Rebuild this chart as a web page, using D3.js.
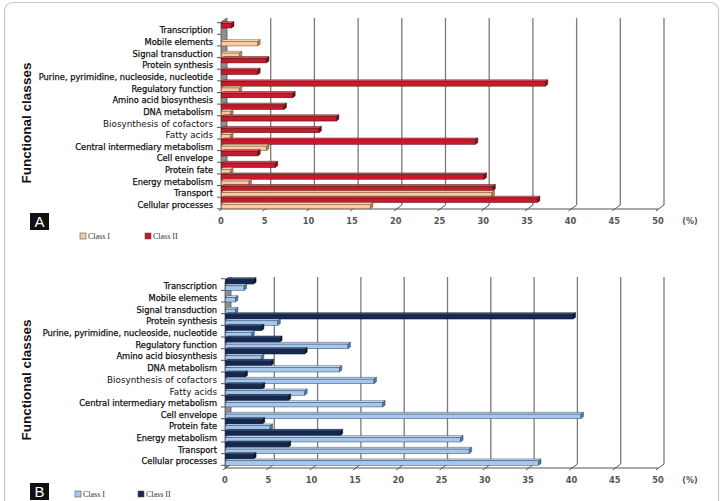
<!DOCTYPE html>
<html>
<head>
<meta charset="utf-8">
<script src="https://cdn.jsdelivr.net/npm/d3@7/dist/d3.min.js"></script>
<style>
  body { margin: 0; background: #fff; }
  svg { display: block; }
</style>
</head>
<body>
<div id="chart"></div>
<script>
// Functional classes, listed top to bottom as in the figure
var categories = [
    "Transcription", "Mobile elements", "Signal transduction", "Protein synthesis",
    "Purine, pyrimidine, nucleoside, nucleotide", "Regulatory function",
    "Amino acid biosynthesis", "DNA metabolism", "Biosynthesis of cofactors",
    "Fatty acids", "Central intermediary metabolism", "Cell envelope",
    "Protein fate", "Energy metabolism", "Transport", "Cellular processes"
];

// Panel A (%)
var classIA  = [0, 4.2, 2.1, 0, 0, 2.1, 0, 1.1, 0, 1.1, 5.2, 0, 1.1, 3.2, 31.0, 17.1];
var classIIA = [1.2, 0, 0, 5.2, 4.2, 37.1, 8.2, 7.2, 13.2, 11.2, 29.1, 4.2, 6.2, 30.1, 31.1, 36.2];

// Panel B (%)
var classIB  = [2.2, 1.2, 1.2, 6.1, 3.1, 14.2, 4.2, 13.2, 17.2, 9.2, 18.2, 41.1, 5.2, 27.2, 28.2, 36.2];
var classIIB = [3.3, 0, 0, 40.2, 4.2, 6.3, 9.2, 5.3, 2.3, 4.3, 7.3, 0, 4.3, 13.3, 7.3, 3.3];

var tickValues = [0, 5, 10, 15, 20, 25, 30, 35, 40, 45, 50];
var seriesNames = ["Class I", "Class II"];

// labels that are printed a bit larger in the original
var bigLabels = ["Biosynthesis of cofactors", "Fatty acids"];

var width = 724, height = 501;
var depthX = 6, depthY = 4;     // floor / wall depth
var barDX = 2.5, barDY = 1.8;   // bar depth
var barH = 4.5;

var svg = d3.select("#chart").append("svg")
    .attr("width", width)
    .attr("height", height);

svg.append("rect")
    .attr("width", width).attr("height", height)
    .attr("fill", "#fff");

// rounded frame round the whole figure
svg.append("rect")
    .attr("x", 4.5).attr("y", 2.5)
    .attr("width", 714).attr("height", 600)
    .attr("rx", 8)
    .attr("fill", "none")
    .attr("stroke", "#c4c4c4")
    .attr("stroke-width", 1.2);

function pts(a) { return a.map(p => p.join(",")).join(" "); }

function drawPanel(opts) {
    var g = svg.append("g");
    var x = d3.scaleLinear().domain([0, 50]).range([opts.x0, opts.x1]);
    var y = d3.scaleBand().domain(categories).range([opts.bandTop, opts.bandBottom]);
    var x0 = x(0);

    // grid lines on the back wall
    g.selectAll("line.grid")
        .data(tickValues.filter(v => v > 0))
        .enter().append("line")
        .attr("x1", d => x(d) + depthX).attr("x2", d => x(d) + depthX)
        .attr("y1", opts.axisY - depthY).attr("y2", opts.top)
        .attr("stroke", "#7a7a7a")
        .attr("stroke-width", 1.3);

    // slanted floor ticks
    g.selectAll("line.ftick")
        .data(tickValues)
        .enter().append("line")
        .attr("x1", d => x(d) - 2).attr("y1", opts.axisY + 2)
        .attr("x2", d => x(d) + depthX).attr("y2", opts.axisY - depthY)
        .attr("stroke", "#555")
        .attr("stroke-width", 1);

    // front floor edge
    g.append("line")
        .attr("x1", x0).attr("x2", x(50))
        .attr("y1", opts.axisY).attr("y2", opts.axisY)
        .attr("stroke", "#555")
        .attr("stroke-width", 1.2);

    // left wall
    g.append("polygon")
        .attr("points", pts([[x0, opts.axisY], [x0, opts.top + depthY],
            [x0 + depthX, opts.top], [x0 + depthX, opts.axisY - depthY]]))
        .attr("fill", "#8e8e8e")
        .attr("stroke", "#555")
        .attr("stroke-width", 0.8);

    // left axis ticks
    var bounds = categories.map(c => y(c)).concat([opts.bandBottom]);
    g.selectAll("line.ltick")
        .data(bounds)
        .enter().append("line")
        .attr("x1", x0 - 4).attr("x2", x0)
        .attr("y1", d => d).attr("y2", d => d)
        .attr("stroke", "#555");

    // bars: Class II on top, Class I below
    var rows = [];
    categories.forEach(function (c, i) {
        var yc = y(c) + y.bandwidth() / 2;
        rows.push({ v: opts.classII[i], yf: yc - 0.5 - barH, col: opts.colors[1] });
        rows.push({ v: opts.classI[i], yf: yc + 1.3, col: opts.colors[0] });
    });
    var bars = g.selectAll("g.bar")
        .data(rows.filter(r => r.v > 0))
        .enter().append("g")
        .attr("class", "bar");

    bars.append("polygon")
        .attr("points", d => pts([[x0, d.yf], [x0 + barDX, d.yf - barDY],
            [x(d.v) + barDX, d.yf - barDY], [x(d.v), d.yf]]))
        .attr("fill", d => d.col.top)
        .attr("stroke", d => d.col.edge)
        .attr("stroke-width", 0.5);

    bars.append("rect")
        .attr("x", x0 + 0.5)
        .attr("y", d => d.yf)
        .attr("width", d => x(d.v) - x0 - 0.5)
        .attr("height", barH)
        .attr("fill", d => d.col.front)
        .attr("stroke", d => d.col.edge)
        .attr("stroke-width", 0.5);

    bars.append("polygon")
        .attr("points", d => pts([[x(d.v), d.yf], [x(d.v) + barDX, d.yf - barDY],
            [x(d.v) + barDX, d.yf + barH - barDY], [x(d.v), d.yf + barH]]))
        .attr("fill", d => d.col.cap)
        .attr("stroke", d => d.col.edge)
        .attr("stroke-width", 0.5);

    // category labels
    g.selectAll("text.cat")
        .data(categories)
        .enter().append("text")
        .attr("x", x0 - 8)
        .attr("y", d => y(d) + y.bandwidth() / 2 + 2)
        .attr("dy", "0.35em")
        .attr("text-anchor", "end")
        .attr("font-family", "DejaVu Sans, Verdana, sans-serif")
        .attr("font-size", d => bigLabels.includes(d) ? "8.8px" : "8.3px")
        .attr("fill", "#111")
        .attr("stroke", "#111")
        .attr("stroke-width", d => bigLabels.includes(d) ? 0 : 0.25)
        .text(d => d);

    // value tick labels
    g.selectAll("text.tick")
        .data(tickValues)
        .enter().append("text")
        .attr("x", d => x(d))
        .attr("y", opts.axisY + 15)
        .attr("text-anchor", "middle")
        .attr("font-family", "DejaVu Sans, Verdana, sans-serif")
        .attr("font-weight", "bold")
        .attr("font-size", "8.3px")
        .attr("fill", "#555")
        .text(d => d);

    g.append("text")
        .attr("x", 690).attr("y", opts.axisY + 15)
        .attr("text-anchor", "middle")
        .attr("font-family", "DejaVu Sans, Verdana, sans-serif")
        .attr("font-weight", "bold")
        .attr("font-size", "8px")
        .attr("fill", "#555")
        .text("(%)");

    // y-axis title
    g.append("text")
        .attr("transform", "translate(31," + opts.titleY + ") rotate(-90)")
        .attr("text-anchor", "middle")
        .attr("font-family", "Liberation Sans, Arial, sans-serif")
        .attr("font-weight", "bold")
        .attr("font-size", "13.5px")
        .attr("fill", "#111")
        .text("Functional classes");

    // panel letter
    g.append("rect")
        .attr("x", 30).attr("y", opts.letterY)
        .attr("width", 19).attr("height", 17)
        .attr("fill", "#111");
    g.append("text")
        .attr("x", 39.5).attr("y", opts.letterY + 14)
        .attr("text-anchor", "middle")
        .attr("font-family", "Liberation Sans, Arial, sans-serif")
        .attr("font-size", "15px")
        .attr("fill", "#fff")
        .text(opts.letter);

    // legend
    var leg = g.selectAll("g.leg")
        .data(seriesNames)
        .enter().append("g")
        .attr("transform", (d, i) => "translate(" + opts.legendX[i] + "," + opts.legendY + ")");
    leg.append("rect")
        .attr("width", 6).attr("height", 6)
        .attr("fill", (d, i) => opts.colors[i].front)
        .attr("stroke", "#555")
        .attr("stroke-width", 0.6);
    leg.append("text")
        .attr("x", 8).attr("y", 5.5)
        .attr("font-family", "Liberation Serif, Times New Roman, serif")
        .attr("font-size", "8px")
        .attr("fill", "#333")
        .text(d => d);
}

var redTan = [
    { front: "#f7cba4", top: "#fde2c6", cap: "#b58058", edge: "#7a4a2a" },
    { front: "#c91a2c", top: "#e2535f", cap: "#7a0e18", edge: "#4a0a0f" }
];
var blues = [
    { front: "#a6c8ec", top: "#d2e5f8", cap: "#5a7aa0", edge: "#2c4468" },
    { front: "#142850", top: "#3a5684", cap: "#0a1630", edge: "#0a1428" }
];

drawPanel({
    classI: classIA, classII: classIIA, colors: redTan,
    x0: 221, x1: 658, top: 18, axisY: 209,
    bandTop: 22.7, bandBottom: 208.8,
    titleY: 123, letter: "A", letterY: 213,
    legendX: [80, 145], legendY: 233
});

drawPanel({
    classI: classIB, classII: classIIB, colors: blues,
    x0: 225, x1: 658, top: 277, axisY: 468,
    bandTop: 278.7, bandBottom: 465.3,
    titleY: 380, letter: "B", letterY: 483,
    legendX: [75, 138], legendY: 491
});
</script>
</body>
</html>
